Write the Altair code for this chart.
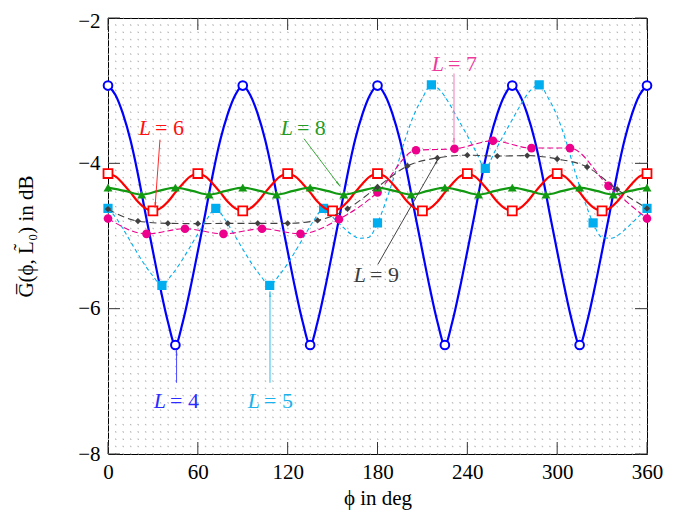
import altair as alt
import pandas as pd

FONT = "Liberation Serif"

# ---------------- values ----------------
# L = 4 (solid blue, hollow circles)
L4_PHI = list(range(0, 361, 5))
L4_VAL = [
    -2.93, -3.06, -3.32, -3.68, -4.15, -4.69, -5.21, -5.72, -6.18, -6.50,
    -6.18, -5.72, -5.21, -4.69, -4.15, -3.68, -3.32, -3.06,
    -2.93, -3.06, -3.32, -3.68, -4.15, -4.69, -5.21, -5.72, -6.18, -6.50,
    -6.18, -5.72, -5.21, -4.69, -4.15, -3.68, -3.32, -3.06,
    -2.93, -3.06, -3.32, -3.68, -4.15, -4.69, -5.21, -5.72, -6.18, -6.50,
    -6.18, -5.72, -5.21, -4.69, -4.15, -3.68, -3.32, -3.06,
    -2.93, -3.06, -3.32, -3.68, -4.15, -4.69, -5.21, -5.72, -6.18, -6.50,
    -6.18, -5.72, -5.21, -4.69, -4.15, -3.68, -3.32, -3.06,
    -2.93,
]
L4_MARK_PHI = [0, 45, 90, 135, 180, 225, 270, 315, 360]
L4_MARK_VAL = [-2.93, -6.50, -2.93, -6.50, -2.93, -6.50, -2.93, -6.50, -2.93]

# L = 5 (dashed cyan, filled squares)
L5_PHI = list(range(0, 361, 6))
L5_VAL = [
    -4.62, -4.77, -4.97, -5.18, -5.38, -5.55, -5.68, -5.55, -5.38, -5.18,
    -4.97, -4.77, -4.62, -4.77, -4.97, -5.18, -5.38, -5.55, -5.68, -5.55,
    -5.38, -5.18, -4.97, -4.77, -4.62, -4.74, -4.86, -4.97, -5.03, -5.02,
    -4.82, -4.50, -4.12, -3.70, -3.35, -3.10, -2.92, -3.00, -3.18, -3.40,
    -3.62, -3.85, -4.07, -3.85, -3.62, -3.40, -3.18, -3.00, -2.92, -3.10,
    -3.35, -3.70, -4.12, -4.50, -4.82, -5.02, -5.03, -4.97, -4.86, -4.74,
    -4.62,
]
L5_MARK_PHI = [0, 36, 72, 108, 144, 180, 216, 252, 288, 324, 360]
L5_MARK_VAL = [-4.62, -5.68, -4.62, -5.68, -4.62, -4.82, -2.92, -4.07, -2.92, -4.82, -4.62]

# L = 6 (solid red, hollow squares)
L6_PHI = list(range(0, 361, 5))
L6_VAL = [
    -4.14, -4.18, -4.28, -4.40, -4.53, -4.62, -4.655, -4.62, -4.53, -4.40, -4.28, -4.18,
    -4.14, -4.18, -4.28, -4.40, -4.53, -4.62, -4.655, -4.62, -4.53, -4.40, -4.28, -4.18,
    -4.14, -4.18, -4.28, -4.40, -4.53, -4.62, -4.655, -4.62, -4.53, -4.40, -4.28, -4.18,
    -4.14, -4.18, -4.28, -4.40, -4.53, -4.62, -4.655, -4.62, -4.53, -4.40, -4.28, -4.18,
    -4.14, -4.18, -4.28, -4.40, -4.53, -4.62, -4.655, -4.62, -4.53, -4.40, -4.28, -4.18,
    -4.14, -4.18, -4.28, -4.40, -4.53, -4.62, -4.655, -4.62, -4.53, -4.40, -4.28, -4.18,
    -4.14,
]
L6_MARK_PHI = [0, 30, 60, 90, 120, 150, 180, 210, 240, 270, 300, 330, 360]
L6_MARK_VAL = [-4.14, -4.655, -4.14, -4.655, -4.14, -4.655, -4.14, -4.655, -4.14, -4.655, -4.14, -4.655, -4.14]

# L = 7 (dashed magenta, filled circles)
L7_PHI = [0, 25.71, 51.43, 77.14, 102.86, 128.57, 154.29, 180, 205.71, 231.43, 257.14, 282.86, 308.57, 334.29, 360]
L7_VAL = [-4.76, -4.97, -4.90, -4.97, -4.90, -4.97, -4.77, -4.40, -3.82, -3.80, -3.69, -3.79, -3.79, -4.31, -4.76]

# L = 8 (solid green, filled triangles)
L8_PHI = [0, 11.25, 22.5, 33.75, 45, 56.25, 67.5, 78.75, 90, 101.25, 112.5, 123.75, 135, 146.25, 157.5, 168.75,
          180, 191.25, 202.5, 213.75, 225, 236.25, 247.5, 258.75, 270, 281.25, 292.5, 303.75, 315, 326.25, 337.5,
          348.75, 360]
L8_VAL = [-4.335, -4.38, -4.43, -4.38, -4.335, -4.38, -4.43, -4.38, -4.335, -4.38, -4.43, -4.38, -4.335, -4.38,
          -4.43, -4.38, -4.335, -4.38, -4.43, -4.38, -4.335, -4.38, -4.43, -4.38, -4.335, -4.38, -4.43, -4.38,
          -4.335, -4.38, -4.43, -4.38, -4.335]
L8_MARK_PHI = [0, 22.5, 45, 67.5, 90, 112.5, 135, 157.5, 180, 202.5, 225, 247.5, 270, 292.5, 315, 337.5, 360]
L8_MARK_VAL = [-4.335, -4.43, -4.335, -4.43, -4.335, -4.43, -4.335, -4.43, -4.335, -4.43, -4.335, -4.43,
               -4.335, -4.43, -4.335, -4.43, -4.335]

# L = 9 (dashed dark gray, filled diamonds)
L9_PHI = [0, 20, 40, 60, 80, 100, 120, 140, 160, 180, 200, 220, 240, 260, 280, 300, 320, 340, 360]
L9_VAL = [-4.63, -4.795, -4.826, -4.83, -4.826, -4.826, -4.826, -4.785, -4.625, -4.326, -4.036, -3.925,
          -3.888, -3.90, -3.893, -3.94, -4.05, -4.357, -4.62]

# axis ticks and grid
X_TICKS = [0, 60, 120, 180, 240, 300, 360]
Y_TICKS = [-8, -6, -4, -2]
GRID_PHI = list(range(0, 361, 5))
GRID_VAL = [round(-8 + 0.1 * i, 1) for i in range(61)]

# annotations
ANN_NUM = ["4", "5", "6", "7", "8", "9"]
ANN_TEXT_COLOR = ["#2b2bff", "#19b2ec", "#ff1010", "#ec3a9c", "#249c24", "#3c3c3c"]
ANN_ARROW_COLOR = ["#4a4aff", "#30bdf0", "#ff2a2a", "#f27ab9", "#3aa83a", "#444444"]
ANN_TEXT_PHI = [45.5, 108.2, 35.4, 231.1, 130.2, 179.0]
ANN_TEXT_VAL = [-7.27, -7.27, -3.52, -2.63, -3.52, -5.535]
ARROW_FROM_PHI = [45.8, 108.2, 34.7, 231.1, 130.9, 180.3]
ARROW_FROM_VAL = [-7.02, -7.02, -3.674, -2.763, -3.661, -5.388]
ARROW_TO_PHI = [45.8, 108.2, 31.4, 231.1, 155.0, 220.4]
ARROW_TO_VAL = [-6.567, -5.763, -4.611, -3.728, -4.317, -3.942]
HEAD_PHI = [45.8, 108.2, 31.6, 231.1, 153.6, 219.3]
HEAD_VAL = [-6.614, -5.81, -4.564, -3.681, -4.279, -3.983]
HEAD_ANGLE = [0, 0, 184, 180, 144, 29]

# ---------------- chart ----------------
W, H = 539, 436
xs = alt.Scale(domain=[0, 360], nice=False, zero=False)
ys = alt.Scale(domain=[-8, -2], nice=False, zero=False)

x_axis = alt.Axis(values=X_TICKS, title="ϕ in deg", labelFont=FONT, labelFontSize=21,
                  titleFont=FONT, titleFontSize=21, titleFontWeight="normal",
                  ticks=False, domain=False, grid=False, labelPadding=7, labelFlush=False,
                  labelColor="black", titleColor="black",
                  titleX=W / 2, titleY=50, titleBaseline="alphabetic", titleAlign="center")
y_axis = alt.Axis(values=Y_TICKS, title="G̅(ϕ, L̃₀) in dB", labelFont=FONT, labelFontSize=21,
                  titleFont=FONT, titleFontSize=21, titleFontWeight="normal",
                  ticks=False, domain=False, grid=False, labelPadding=8, labelFlush=False,
                  labelOffset={"condition": {"test": "datum.value == -2", "value": 3}, "value": 0},
                  labelColor="black", titleColor="black",
                  titleX=-82, titleY=H / 2, titleAngle=270, titleBaseline="middle", titleAlign="center")


def X(field):
    return alt.X(field, type="quantitative", scale=xs, axis=x_axis)


def Y(field):
    return alt.Y(field, type="quantitative", scale=ys, axis=y_axis)


# grid
gv = pd.DataFrame({"phi": GRID_PHI, "y0": -8.0, "y1": -2.0})
gh = pd.DataFrame({"v": GRID_VAL, "x0": 0.0, "x1": 360.0})
grid_v = alt.Chart(gv).mark_rule(stroke="#b4b4b4", strokeWidth=1, strokeDash=[1, H / 60 - 1]).encode(
    x=X("phi"), y=Y("y0"), y2="y1")
grid_h = alt.Chart(gh).mark_rule(stroke="#b4b4b4", strokeWidth=1, strokeDash=[1, W / 72 - 1]).encode(
    x=X("x0"), x2="x1", y=Y("v"))

# inward major ticks on all four sides (12 px long)
tlen_y = 12 * 6 / H
tlen_x = 12 * 360 / W
tick_rows = []
for p in X_TICKS:
    tick_rows.append({"x": p, "x2": p, "y": -8, "y2": -8 + tlen_y})
    tick_rows.append({"x": p, "x2": p, "y": -2, "y2": -2 - tlen_y})
for v in Y_TICKS:
    tick_rows.append({"x": 0, "x2": tlen_x, "y": v, "y2": v})
    tick_rows.append({"x": 360, "x2": 360 - tlen_x, "y": v, "y2": v})
ticks = alt.Chart(pd.DataFrame(tick_rows)).mark_rule(stroke="#333333", strokeWidth=1).encode(
    x=X("x"), x2="x2", y=Y("y"), y2="y2")


def series(phi, val, color, width, dash=None):
    df = pd.DataFrame({"phi": phi, "val": val})
    kw = dict(color=color, strokeWidth=width, interpolate="monotone")
    if dash:
        kw["strokeDash"] = dash
    return alt.Chart(df).mark_line(**kw).encode(x=X("phi"), y=Y("val"))


def markers(phi, val, shape, size, color, hollow=False, sw=1.8):
    df = pd.DataFrame({"phi": phi, "val": val})
    if hollow:
        m = alt.Chart(df).mark_point(shape=shape, size=size, filled=True, fill="white",
                                     stroke=color, strokeWidth=sw, opacity=1)
    else:
        m = alt.Chart(df).mark_point(shape=shape, size=size, filled=True, color=color, opacity=1)
    return m.encode(x=X("phi"), y=Y("val"))


BLUE, CYAN, RED, PINK, GREEN, GRAY = "#0000ff", "#00adef", "#ff0000", "#ec008c", "#119911", "#404040"

layers = [grid_v, grid_h, ticks,
          series(L4_PHI, L4_VAL, BLUE, 2.2),
          markers(L4_MARK_PHI, L4_MARK_VAL, "circle", 75, BLUE, hollow=True, sw=2),
          series(L5_PHI, L5_VAL, CYAN, 1.1, [4, 3]),
          markers(L5_MARK_PHI, L5_MARK_VAL, "square", 85, CYAN),
          series(L6_PHI, L6_VAL, RED, 2.2),
          markers(L6_MARK_PHI, L6_MARK_VAL, "square", 80, RED, hollow=True, sw=1.8),
          series(L7_PHI, L7_VAL, PINK, 1.1, [6, 3]),
          markers(L7_PHI, L7_VAL, "circle", 75, PINK),
          series(L8_PHI, L8_VAL, GREEN, 2.2),
          markers(L8_MARK_PHI, L8_MARK_VAL, "triangle-up", 80, GREEN),
          series(L9_PHI, L9_VAL, GRAY, 1.1, [7, 4]),
          markers(L9_PHI, L9_VAL, "diamond", 40, GRAY),
          ]

ann = pd.DataFrame({
    "num": ANN_NUM, "tcol": ANN_TEXT_COLOR, "acol": ANN_ARROW_COLOR,
    "tphi": ANN_TEXT_PHI, "tval": ANN_TEXT_VAL,
    "fphi": ARROW_FROM_PHI, "fval": ARROW_FROM_VAL,
    "ephi": ARROW_TO_PHI, "eval": ARROW_TO_VAL,
    "hphi": HEAD_PHI, "hval": HEAD_VAL, "ang": HEAD_ANGLE,
})
ann["rest"] = "= " + ann["num"]
ann["L"] = "L"

arrows = alt.Chart(ann).mark_rule(strokeWidth=1).encode(
    x=X("fphi"), y=Y("fval"), x2="ephi", y2="eval", color=alt.Color("acol:N", scale=None))
heads = alt.Chart(ann).mark_point(shape="wedge", size=55, filled=True, opacity=1).encode(
    x=X("hphi"), y=Y("hval"), angle=alt.Angle("ang:Q", scale=None),
    color=alt.Color("acol:N", scale=None))
txt_L = alt.Chart(ann).mark_text(font=FONT, fontSize=22, fontStyle="italic", align="right",
                                 baseline="middle", dx=-10).encode(
    x=X("tphi"), y=Y("tval"), text="L:N", color=alt.Color("tcol:N", scale=None))
txt_rest = alt.Chart(ann).mark_text(font=FONT, fontSize=22, align="left", baseline="middle", dx=-6).encode(
    x=X("tphi"), y=Y("tval"), text="rest:N", color=alt.Color("tcol:N", scale=None))

layers += [arrows, heads, txt_L, txt_rest]

chart = alt.layer(*layers).properties(
    width=W, height=H,
    autosize=alt.AutoSizeParams(type="none"),
    padding={"left": 100, "top": 10, "right": 33, "bottom": 56},
).configure_view(stroke="black", strokeWidth=1)

chart.save("out.html", embed_options={"renderer": "svg", "actions": False})
